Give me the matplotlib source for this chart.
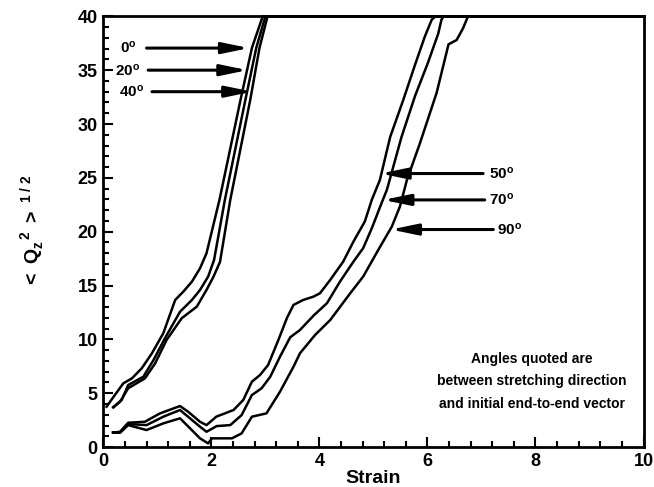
import matplotlib
matplotlib.use("Agg")
from matplotlib import pyplot as plt
from matplotlib.ticker import MultipleLocator

plt.rcParams["font.family"] = ["Liberation Sans", "DejaVu Sans"]
plt.rcParams["font.weight"] = "bold"
plt.rcParams["mathtext.fontset"] = "custom"
plt.rcParams["mathtext.rm"] = "Liberation Sans:bold"
plt.rcParams["mathtext.bf"] = "Liberation Sans:bold"
plt.rcParams["mathtext.it"] = "Liberation Sans:bold"

# chains that reach full extension early (0, 20, 40 degrees)
strain_0 = [0.06, 0.19, 0.37, 0.53, 0.71, 0.90, 1.11, 1.33, 1.48, 1.64, 1.79, 1.91,
            2.15, 2.54, 2.75, 2.95, 10.0]
q_0 = [3.75, 4.67, 5.92, 6.38, 7.31, 8.71, 10.57, 13.66, 14.43, 15.36, 16.6, 18.0,
       22.96, 32.25, 37.05, 40.0, 40.0]

strain_20 = [0.18, 0.34, 0.46, 0.74, 0.93, 1.14, 1.42, 1.64, 1.79, 1.94, 2.05,
             2.25, 2.63, 2.83, 3.00, 10.0]
q_20 = [3.7, 4.37, 5.76, 6.53, 8.09, 10.1, 12.57, 13.66, 14.59, 15.83, 17.38,
        22.96, 32.25, 37.05, 40.0, 40.0]

strain_40 = [0.19, 0.31, 0.46, 0.77, 0.96, 1.17, 1.45, 1.73, 1.91, 2.04, 2.16,
             2.35, 2.72, 2.89, 3.04, 10.0]
q_40 = [3.7, 4.21, 5.46, 6.38, 7.78, 9.94, 11.96, 13.04, 14.59, 15.83, 17.2,
        22.96, 32.25, 37.05, 40.0, 40.0]

# chains that stretch late (50, 70, 90 degrees)
strain_50 = [0.18, 0.31, 0.46, 0.77, 1.05, 1.42, 1.57, 1.79, 1.91, 2.09, 2.41, 2.59,
             2.75, 2.90, 3.05, 3.24, 3.40, 3.52, 3.70, 3.89, 4.01, 4.20, 4.44, 4.63,
             4.84, 4.97, 5.12, 5.31, 5.55, 5.77, 5.95, 6.08, 6.15, 10.0]
q_50 = [1.35, 1.42, 2.26, 2.35, 3.13, 3.81, 3.28, 2.35, 2.04, 2.82, 3.44, 4.37,
        6.07, 6.69, 7.62, 9.94, 12.0, 13.2, 13.66, 13.97, 14.28, 15.52, 17.22, 19.08,
        20.94, 22.96, 24.81, 28.8, 32.2, 35.5, 38.1, 39.7, 40.0, 40.0]

strain_70 = [0.18, 0.31, 0.46, 0.80, 1.11, 1.42, 1.79, 1.91, 2.10, 2.35, 2.56, 2.75,
             2.93, 3.09, 3.27, 3.46, 3.64, 3.89, 4.14, 4.38, 4.63, 4.81, 4.97, 5.15,
             5.25, 5.52, 5.77, 6.01, 6.20, 6.26, 6.30, 10.0]
q_70 = [1.35, 1.38, 2.14, 2.04, 2.82, 3.44, 1.89, 1.42, 1.95, 2.04, 2.97, 4.83,
        5.46, 6.53, 8.39, 10.2, 10.87, 12.2, 13.36, 15.36, 17.22, 18.47, 20.32, 22.65,
        23.9, 28.8, 32.6, 35.7, 38.4, 39.7, 40.0, 40.0]

strain_90 = [0.18, 0.31, 0.46, 0.80, 1.11, 1.42, 1.79, 1.94, 2.01, 2.38, 2.56, 2.75,
             3.02, 3.27, 3.52, 3.64, 3.92, 4.20, 4.57, 4.81, 5.09, 5.34, 5.49, 5.62,
             5.86, 6.17, 6.39, 6.54, 6.66, 6.75, 10.0]
q_90 = [1.35, 1.33, 2.04, 1.58, 2.2, 2.67, 0.81, 0.34, 0.81, 0.81, 1.27, 2.82,
        3.13, 5.14, 7.46, 8.71, 10.41, 11.8, 14.28, 15.83, 18.31, 20.47, 22.33, 24.81,
        28.2, 32.9, 37.4, 37.8, 38.9, 40.0, 40.0]

# angle labels: text, label position, arrow tail, arrow tip
angle_labels = ["0$^{o}$", "20$^{o}$", "40$^{o}$", "50$^{o}$", "70$^{o}$", "90$^{o}$"]
label_pos = [(0.46, 37.05), (0.45, 35.0), (0.52, 33.0), (7.37, 25.4), (7.37, 22.95), (7.52, 20.2)]
arrow_tail = [(0.80, 37.05), (0.83, 35.0), (0.90, 33.0), (7.03, 25.4), (7.06, 22.95), (7.22, 20.2)]
arrow_tip = [(2.70, 37.05), (2.67, 35.0), (2.76, 33.0), (5.13, 25.4), (5.18, 22.95), (5.32, 20.2)]

fig = plt.figure(figsize=(6.54, 4.87), dpi=100)
ax = fig.add_axes([0.158, 0.082, 0.826, 0.8845])

for xs, ys in [(strain_0, q_0), (strain_20, q_20), (strain_40, q_40),
               (strain_50, q_50), (strain_70, q_70), (strain_90, q_90)]:
    ax.plot(xs, ys, color="black", lw=1.8, clip_on=False, solid_joinstyle="round")

for text, pos, tail, tip in zip(angle_labels, label_pos, arrow_tail, arrow_tip):
    ax.annotate("", xy=tip, xytext=tail,
                arrowprops=dict(arrowstyle="-|>,head_length=1.6,head_width=0.33",
                                mutation_scale=10, lw=2.2, color="black",
                                shrinkA=0, shrinkB=0))
    ax.text(pos[0], pos[1], text, ha="center", va="center", fontsize=11,
            fontweight="bold")

ax.text(7.93, 6.1, "Angles quoted are\nbetween stretching direction\nand initial end-to-end vector",
        ha="center", va="center", fontsize=10, fontweight="bold", linespacing=1.75)

ax.set_xlim(0, 10)
ax.set_ylim(0, 40)
ax.xaxis.set_major_locator(MultipleLocator(2))
ax.xaxis.set_minor_locator(MultipleLocator(0.4))
ax.yaxis.set_major_locator(MultipleLocator(5))
ax.yaxis.set_minor_locator(MultipleLocator(1))
ax.tick_params(which="both", direction="in", top=False, right=False, width=1.5,
               labelsize=13)
ax.tick_params(which="major", length=7, pad=4)
ax.tick_params(which="minor", length=4)
for spine in ax.spines.values():
    spine.set_linewidth(2)

ax.set_xlabel("Strain", fontsize=14, fontweight="bold", labelpad=0)
ax.set_ylabel(r"$<\ Q_z^{\ \ 2}\ >^{\ 1\ /\ 2}$", fontsize=14, labelpad=22)

fig.savefig("out.png", dpi=100)
